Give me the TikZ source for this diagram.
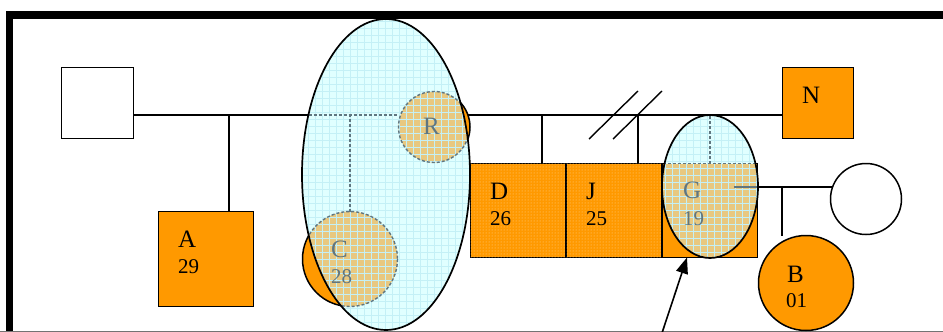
\documentclass[tikz,border=0pt]{standalone}
\usepackage{fontspec}
\setmainfont{Liberation Serif}
\usetikzlibrary{patterns,arrows.meta,shapes.geometric}
\definecolor{org}{RGB}{255,153,0}
\definecolor{tanc}{RGB}{232,200,128}
\definecolor{icy}{RGB}{224,255,255}
\definecolor{gridc}{RGB}{196,240,246}
\definecolor{grayb}{RGB}{96,118,128}
\definecolor{dotc}{RGB}{255,214,150}
\pgfdeclarelayer{bg}
\pgfsetlayers{bg,main}
\begin{document}
\begin{tikzpicture}[x=1pt,y=-1pt,line width=1.5pt,
  sqbox/.style={draw=black,rectangle,inner sep=0pt,outer sep=0pt},
  circbox/.style={draw=black,circle,inner sep=0pt,outer sep=0pt},
  dotbox/.style={sqbox,fill=org,postaction={pattern=dots,pattern color=dotc}},
  letter/.style={anchor=base west,inner sep=0pt,font=\fontsize{25}{30}\selectfont},
  number/.style={anchor=base west,inner sep=0pt,font=\fontsize{21}{25}\selectfont},
  seen/.style={text=grayb},
  dashgray/.style={draw=grayb,line width=1.4pt,dash pattern=on 3pt off 2pt},
  gridl/.style={draw=gridc,line width=0.7pt},
  link/.style={draw=black,line width=1.6pt}]
\useasboundingbox (0,0) rectangle (943,332);
% frame
\draw[line width=7.5pt,line join=miter] (9.5,345) -- (9.5,15) -- (960,15);
\draw[line width=0.7pt,black!55] (0,331) -- (943,331);

% people
\node[sqbox,fill=white,minimum width=72,minimum height=71] (S) at (97.5,103) {};
\node[sqbox,fill=org,minimum width=95,minimum height=95] (A) at (206,259) {};
\node[circbox,fill=org,minimum size=95] (C) at (350,259) {};
\node[circbox,fill=org,minimum size=72] (R) at (434,127) {};
\node[dotbox,minimum width=95,minimum height=94] (D) at (518,210.5) {};
\node[dotbox,minimum width=95,minimum height=94] (J) at (614,210.5) {};
\node[sqbox,fill=org,minimum width=95,minimum height=94] (G) at (710,210.5) {};
\node[sqbox,fill=org,minimum width=71,minimum height=71] (N) at (818,103) {};
\node[circbox,fill=white,minimum size=71] (W) at (866,199) {};
\node[circbox,fill=org,minimum size=95] (B) at (806,283) {};

% connectors (under the nodes)
\coordinate (ml) at ([yshift=-12pt]S.east);
\coordinate (gm) at ([yshift=23.5pt]G.east);
\coordinate (s1a) at (589,139);
\coordinate (s1b) at (638,91);
\coordinate (s2a) at (613,139);
\coordinate (s2b) at (662,91);
\begin{pgfonlayer}{bg}
  \draw[link] (ml) -- ([yshift=-12pt]N.west);
  \draw[link] ([xshift=23pt]A.north) -- ([xshift=23pt]A.north |- ml);
  \draw[link] (C.north) -- (C.north |- ml);
  \draw[link] ([xshift=24pt]D.north) -- ([xshift=24pt]D.north |- ml);
  \draw[link] ([xshift=24pt]J.north) -- ([xshift=24pt]J.north |- ml);
  \draw[link] (gm) -- (gm -| W.center);
  \draw[link] ([xshift=-24pt]B.north) -- ([xshift=-24pt]B.north |- gm);
\end{pgfonlayer}
\draw[link,line width=1.4pt] (s1a) -- (s1b);
\draw[link,line width=1.4pt] (s2a) -- (s2b);

% labels of the plain people
\node[letter] (tA) at (178,247) {A};
\node[number] (nA) at (178,273) {29};
\node[letter] (tD) at (490,199) {D};
\node[number] (nD) at (490,225) {26};
\node[letter] (tJ) at (586,199) {J};
\node[number] (nJ) at (586,225) {25};
\node[letter] (tN) at (802,103) {N};
\node[letter] (tB) at (787,282) {B};
\node[number] (nB) at (786,307) {01};

% big ellipse
\node[ellipse,inner sep=0pt,outer sep=0pt,minimum width=168,minimum height=311] (E1) at (386,174.5) {};
\fill[icy] (E1.center) ellipse [x radius=84,y radius=155.5];
\begin{scope}
  \clip (E1.center) ellipse [x radius=84,y radius=155.5];
  \fill[tanc] (R.center) circle [radius=35.5];
  \fill[tanc] (C.center) circle [radius=47.5];
  \draw[gridl,step=7pt] (296,10) grid (480,340);
  \draw[dashgray] (R.center) circle [radius=35.5];
  \draw[dashgray] (C.center) circle [radius=47.5];
  \draw[dashgray] (ml) -- (ml -| R.west);
  \draw[dashgray] (C.north) -- (C.north |- ml);
\end{scope}
\draw[line width=1.7pt] (E1.center) ellipse [x radius=84,y radius=155.5];
\node[letter,seen] (tR) at (423,134) {R};
\node[letter,seen] (tC) at (331,257) {C};
\node[number,seen] (nC) at (331,283) {28};

% small ellipse
\node[ellipse,inner sep=0pt,outer sep=0pt,minimum width=96,minimum height=143] (E2) at (710,186.5) {};
\fill[icy] (E2.center) ellipse [x radius=48,y radius=71.5];
\begin{scope}
  \clip (E2.center) ellipse [x radius=48,y radius=71.5];
  \fill[tanc] (G.north west) rectangle (G.south east);
  \draw[gridl,step=7pt] (655,110) grid (765,265);
  \draw[dashgray] (G.north west) -- (G.north east);
  \draw[dashgray] (G.north) -- (G.north |- ml);
  \draw[draw=grayb,line width=1.3pt] (gm) -- ([xshift=-24pt]gm);
\end{scope}
\draw[line width=1.7pt] (E2.center) ellipse [x radius=48,y radius=71.5];
\node[letter,seen] (tG) at (683,198) {G};
\node[number,seen] (nG) at (683,225) {19};

% arrow
\coordinate (tail) at (662,333);
\draw[link,-{Triangle[length=16pt,width=12pt]}] (tail) -- ([xshift=-23pt]G.south);
\end{tikzpicture}
\end{document}
